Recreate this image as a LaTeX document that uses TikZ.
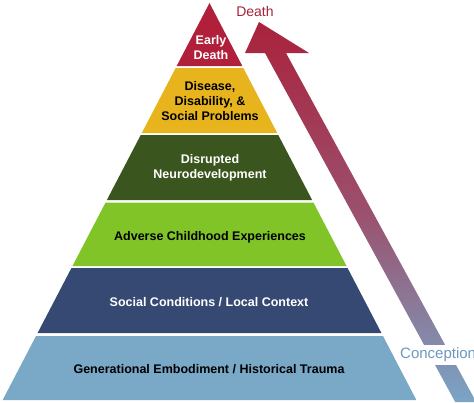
\documentclass[tikz,border=0pt]{standalone}
\usepackage{fontspec}
\setmainfont{Liberation Sans}
\definecolor{edred}{RGB}{176,32,58}
\definecolor{disyel}{RGB}{232,180,30}
\definecolor{neugreen}{RGB}{58,86,30}
\definecolor{acegreen}{RGB}{128,196,40}
\definecolor{socnavy}{RGB}{54,73,115}
\definecolor{genblue}{RGB}{122,168,199}
\definecolor{arrtop}{RGB}{170,34,60}
\definecolor{arrmid}{RGB}{155,80,110}
\definecolor{arrbot}{RGB}{122,165,198}
\definecolor{deathtxt}{RGB}{165,35,58}
\definecolor{conctxt}{RGB}{110,152,188}
\newcommand\pyrband[3]{\fill[#3] ({209.5-0.521*(#1-3)},#1) -- ({209.5+0.521*(#1-3)},#1) -- ({209.5+0.521*(#2-3)},#2) -- ({209.5-0.521*(#2-3)},#2) -- cycle;}
\tikzset{
  lbl/.style={font=\fontsize{12.5}{15}\selectfont\bfseries, align=center, inner sep=0pt},
}
\begin{document}
\begin{tikzpicture}[x=1pt,y=-1pt]
\useasboundingbox (0,0) rectangle (474,402);
% pyramid bands
\pyrband{3}{66}{edred}
\pyrband{68}{133}{disyel}
\pyrband{135}{200}{neugreen}
\pyrband{202.5}{266}{acegreen}
\pyrband{268}{333}{socnavy}
\pyrband{336}{400}{genblue}
% labels
\node[lbl, text=white] (early) at (211,48) {Early\\Death};
\node[lbl, text=black] (disease) at (210,101) {Disease,\\Disability, \&\\Social Problems};
\node[lbl, text=white] (neuro) at (210,167.5) {Disrupted\\Neurodevelopment};
\node[lbl, text=black] (ace) at (210,237) {Adverse Childhood Experiences};
\node[lbl, text=white] (social) at (209,302) {Social Conditions / Local Context};
\node[lbl, text=black] (gen) at (209,369) {Generational Embodiment / Historical Trauma};
% arrow
\shade[top color=arrtop, bottom color=arrbot, middle color=arrmid]
  (259,22) -- (309,53) -- (286,53) -- (476.2,402) -- (455.2,402) -- (265,53) -- (245,53) -- cycle;
\node[font=\fontsize{14}{16}\selectfont, text=deathtxt, inner sep=0pt] (death) at (255,11) {Death};
\node[font=\fontsize{15}{17}\selectfont, text=conctxt, fill=white, anchor=west, inner xsep=2pt, inner ysep=0pt, minimum height=20pt] (conc) at (398,355) {Conception};
\end{tikzpicture}
\end{document}
